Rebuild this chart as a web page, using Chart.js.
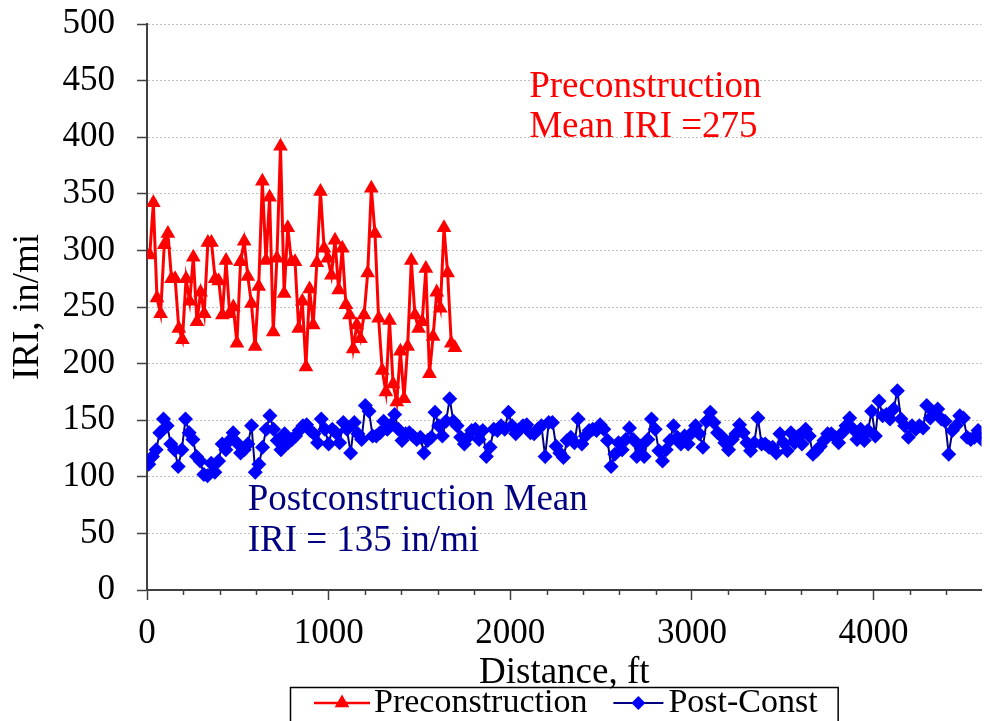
<!DOCTYPE html>
<html>
<head>
<meta charset="utf-8">
<script src="https://cdn.jsdelivr.net/npm/chart.js@4/dist/chart.umd.min.js"></script>
<style>
  html, body { margin: 0; padding: 0; background: #fff; }
  #wrap { width: 990px; height: 721px; }
</style>
</head>
<body>
<div id="wrap"><canvas id="iriChart" width="990" height="721"></canvas></div>
<script>
// distance stations (ft): first reading and spacing between readings
var preStart = 15, preStep = 20;
var postStart = 10, postStep = 20.2;

// IRI (in/mi)
var preIri = [
  296, 342, 258, 244, 305, 315, 275, 275, 231, 221,
  275, 255, 294, 237, 263, 244, 307, 307, 275, 273,
  243, 291, 244, 250, 218, 290, 308, 277, 253, 215,
  268, 361, 291, 347, 228, 293, 392, 262, 320, 290,
  290, 231, 255, 197, 266, 234, 289, 352, 302, 293,
  278, 309, 265, 302, 252, 243, 213, 234, 222, 243,
  280, 355, 315, 240, 194, 175, 238, 182, 166, 211,
  169, 215, 291, 243, 231, 237, 284, 191, 224, 263,
  249, 320, 280, 218, 214
];

var postIri = [
  111, 118, 124, 139, 151, 145, 129, 124, 109, 124,
  151, 139, 133, 118, 114, 102, 101, 112, 104, 114,
  129, 124, 132, 139, 130, 121, 124, 129, 145, 104,
  111, 126, 142, 154, 142, 132, 124, 138, 130, 133,
  136, 141, 145, 146, 141, 138, 130, 151, 142, 129,
  142, 139, 130, 148, 142, 121, 148,
  138, 133, 163, 158, 136, 136, 139, 149, 142, 146,
  155, 142, 132, 138, 139, 136, 133, 135, 121, 132,
  135, 157, 145, 136, 149, 169, 149, 145, 135, 129,
  135, 141, 142, 133, 141, 118, 126, 142, 141, 145,
  142, 157, 145, 138, 142, 145, 146, 139, 138, 142,
  145, 118, 148, 148, 127, 121,
  117, 132, 135, 130, 151, 129, 136, 141, 142, 141,
  146, 142, 132, 109, 120, 130, 124, 133, 143, 133,
  118, 127, 118, 133, 151, 142, 123, 114, 124, 132,
  145, 135, 129, 136, 129, 139, 145, 138, 126, 149,
  157, 148, 139, 136, 130, 124, 133, 138, 146, 139,
  130, 123, 130, 152, 129,
  129, 126, 126, 121, 138, 130, 123, 139, 130, 136,
  129, 142, 136, 120, 123, 127, 132, 138, 138, 135,
  130, 139, 145, 152, 142, 133, 142, 132, 141, 158,
  136, 167, 154, 155, 151, 160, 176, 151, 145, 135,
  145, 142, 145, 143, 163, 152, 157, 160, 151, 149,
  120, 141, 145, 154, 152, 135, 133, 135, 141,
  133, 128, 131
];

var xMax = 4594;
var xTickValues = [0, 1000, 2000, 3000, 4000];
var xMinor = 200;
var yMax = 500, yStep = 50;

var preNote = ['Preconstruction', 'Mean IRI =275'];
var postNote = ['Postconstruction Mean', 'IRI = 135 in/mi'];

var serif = "'Liberation Serif', 'Times New Roman', serif";

function toPoints(start, step, values) {
    return values.map(function (v, i) {
        return { x: start + i * step, y: v };
    });
}

// minor ticks, text notes and the boxed legend
var extrasPlugin = {
    id: 'extras',
    afterDraw: function (chart) {
        var ctx = chart.ctx;
        var xs = chart.scales.x;
        var ys = chart.scales.y;
        var area = chart.chartArea;

        ctx.save();
        ctx.strokeStyle = '#404040';
        ctx.lineWidth = 1.5;
        for (var v = xMinor; v < xMax; v += xMinor) {
            if (xTickValues.indexOf(v) >= 0) continue;
            var px = Math.round(xs.getPixelForValue(v)) + 0.5;
            ctx.beginPath();
            ctx.moveTo(px, area.bottom);
            ctx.lineTo(px, area.bottom + 5);
            ctx.stroke();
        }

        ctx.font = '37px ' + serif;
        ctx.textAlign = 'left';
        ctx.textBaseline = 'middle';
        ctx.fillStyle = '#ff0000';
        ctx.fillText(preNote[0], xs.getPixelForValue(2104), ys.getPixelForValue(444));
        ctx.fillText(preNote[1], xs.getPixelForValue(2104), ys.getPixelForValue(409));
        ctx.fillStyle = '#000080';
        ctx.fillText(postNote[0], xs.getPixelForValue(554), ys.getPixelForValue(79));
        ctx.fillText(postNote[1], xs.getPixelForValue(554), ys.getPixelForValue(43));

        // legend
        var ds = chart.data.datasets;
        ctx.font = '34px ' + serif;
        var w1 = ctx.measureText(ds[0].label).width;
        var w2 = ctx.measureText(ds[1].label).width;
        var total = 24 + 56 + 4 + w1 + 26 + 50 + 5 + w2 + 20;
        var left = Math.round((area.left + area.right) / 2 - total / 2);
        var top = 687, cy = 703;
        ctx.lineWidth = 1.5;
        ctx.strokeStyle = '#000';
        ctx.strokeRect(left + 0.5, top + 0.5, total, 60);

        var x = left + 24;
        ctx.strokeStyle = '#ff0000';
        ctx.lineWidth = 2.5;
        ctx.beginPath(); ctx.moveTo(x, cy); ctx.lineTo(x + 56, cy); ctx.stroke();
        ctx.fillStyle = '#ff0000';
        Chart.helpers.drawPoint(ctx, { pointStyle: 'triangle', radius: 8.5, borderWidth: 0, rotation: 0 }, x + 28, cy);
        x += 60;
        ctx.fillStyle = '#000';
        ctx.fillText(ds[0].label, x, cy);
        x += w1 + 26;
        ctx.strokeStyle = '#000080';
        ctx.lineWidth = 2;
        ctx.beginPath(); ctx.moveTo(x, cy); ctx.lineTo(x + 50, cy); ctx.stroke();
        ctx.fillStyle = '#0000ff';
        Chart.helpers.drawPoint(ctx, { pointStyle: 'rectRot', radius: 7, borderWidth: 0, rotation: 0 }, x + 25, cy);
        x += 55;
        ctx.fillStyle = '#000';
        ctx.fillText(ds[1].label, x, cy);
        ctx.restore();
    }
};

var ctx = document.getElementById('iriChart').getContext('2d');
var chart = new Chart(ctx, {
    type: 'line',
    data: {
        datasets: [
            {
                label: 'Preconstruction',
                data: toPoints(preStart, preStep, preIri),
                borderColor: '#ff0000',
                backgroundColor: '#ff0000',
                borderWidth: 3,
                pointStyle: 'triangle',
                pointRadius: 8.5,
                pointBorderWidth: 0,
                pointBackgroundColor: '#ff0000',
                tension: 0,
                order: 1
            },
            {
                label: 'Post-Const',
                data: toPoints(postStart, postStep, postIri),
                borderColor: '#000080',
                backgroundColor: '#0000ff',
                borderWidth: 2,
                pointStyle: 'rectRot',
                pointRadius: 7.5,
                pointBorderWidth: 0,
                pointBackgroundColor: '#0000ff',
                tension: 0,
                order: 0
            }
        ]
    },
    options: {
        responsive: false,
        animation: false,
        devicePixelRatio: 1,
        layout: { padding: { top: 24, right: 0, bottom: 21, left: 0 } },
        plugins: {
            legend: { display: false },
            tooltip: { enabled: false }
        },
        scales: {
            x: {
                type: 'linear',
                min: 0,
                max: xMax,
                afterFit: function (scale) {
                    scale.height = 110;
                    scale.paddingLeft = 0;
                    scale.paddingRight = 0;
                },
                afterBuildTicks: function (scale) {
                    scale.ticks = xTickValues.map(function (v) { return { value: v }; });
                },
                ticks: {
                    autoSkip: false,
                    maxRotation: 0,
                    padding: 13,
                    color: '#000',
                    font: { family: serif, size: 35 },
                    callback: function (v) { return String(v); }
                },
                grid: {
                    drawOnChartArea: false,
                    drawTicks: true,
                    tickLength: 10,
                    tickColor: '#404040',
                    tickWidth: 1.5
                },
                border: { display: true, color: '#404040', width: 2 },
                title: {
                    display: true,
                    text: 'Distance, ft',
                    color: '#000',
                    font: { family: serif, size: 37 },
                    padding: { top: 0, bottom: 5 }
                }
            },
            y: {
                min: 0,
                max: yMax,
                afterFit: function (scale) {
                    scale.width = 147;
                    scale.paddingTop = 0;
                    scale.paddingBottom = 0;
                },
                ticks: {
                    stepSize: yStep,
                    padding: 22,
                    color: '#000',
                    font: { family: serif, size: 35 }
                },
                grid: {
                    color: '#c0c0c0',
                    lineWidth: 1,
                    tickLength: 10,
                    tickColor: '#404040',
                    tickWidth: 1.5
                },
                border: { display: true, color: '#404040', width: 2, dash: [2, 2] },
                title: {
                    display: true,
                    text: 'IRI, in/mi',
                    color: '#000',
                    font: { family: serif, size: 37 },
                    padding: { top: 6, bottom: 0 }
                }
            }
        }
    },
    plugins: [extrasPlugin]
});
</script>
</body>
</html>
